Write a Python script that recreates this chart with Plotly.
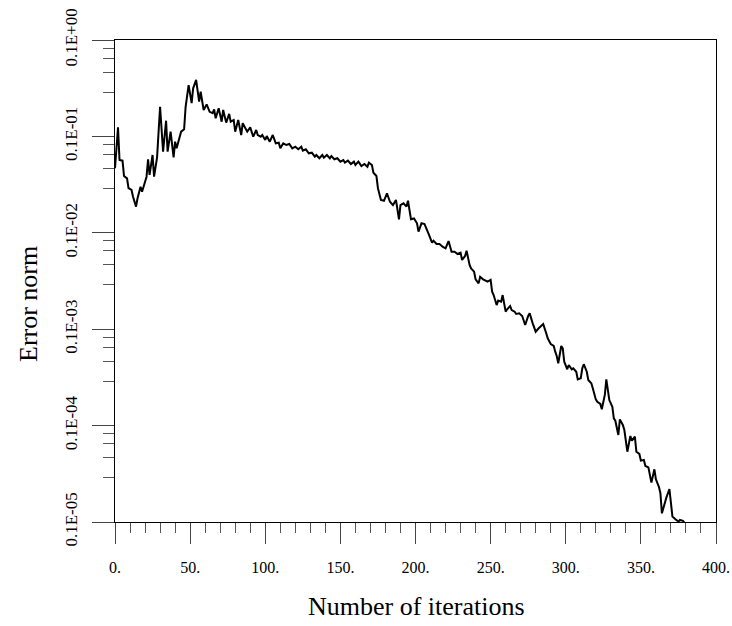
import plotly.graph_objects as go

# ---- data ----
iterations = [0, 2, 3, 5, 6, 8, 9, 11, 12, 14, 15, 17, 18, 20, 21, 22, 23, 25, 26, 28,
              30, 32, 34, 35, 37, 39, 40, 41, 43, 44, 46, 47, 49, 51, 52, 54, 56, 57, 59, 61,
              63, 65, 66, 67, 69, 71, 72, 74, 76, 77, 79, 80, 82, 84, 85, 87, 88, 90, 92, 94,
              95, 97, 98, 100, 101, 103, 105, 107, 109, 110, 112, 114, 116, 118, 120, 122, 124, 125, 127, 129,
              131, 133, 134, 136, 138, 139, 141, 143, 144, 146, 148, 150, 152, 153, 155, 157, 159, 160, 162, 164,
              166, 168, 169, 171, 172, 174, 175, 177, 179, 181, 183, 185, 187, 189, 190, 192, 194, 195, 197, 199,
              201, 202, 204, 206, 208, 209, 211, 212, 214, 216, 218, 220, 222, 224, 226, 228, 230, 231, 233, 234,
              236, 237, 239, 240, 242, 243, 245, 246, 248, 250, 251, 252, 254, 255, 257, 258, 259, 260, 261, 263,
              264, 266, 267, 269, 271, 273, 275, 276, 278, 280, 282, 284, 285, 287, 288, 290, 292, 293, 294, 295,
              296, 297, 298, 299, 301, 302, 304, 305, 307, 308, 310, 311, 312, 314, 315, 317, 318, 320, 321, 323,
              324, 326, 327, 328, 329, 331, 332, 333, 335, 336, 338, 339, 341, 343, 344, 346, 347, 349, 350, 352,
              353, 355, 357, 359, 360, 362, 363, 364, 366, 367, 369, 370, 371, 373, 375, 376, 378, 379]

error_norm = [4.67e-3, 1.24e-2, 5.69e-3, 5.60e-3, 3.88e-3, 3.67e-3, 2.90e-3, 2.78e-3, 2.37e-3, 1.87e-3,
              2.28e-3, 3.01e-3, 2.67e-3, 3.53e-3, 3.82e-3, 5.79e-3, 3.98e-3, 6.41e-3, 3.82e-3, 6.07e-3,
              2.03e-2, 6.94e-3, 1.455e-2, 6.94e-3, 1.119e-2, 6.07e-3, 8.81e-3, 7.52e-3, 9.56e-3, 1.119e-2,
              1.185e-2, 2.03e-2, 3.41e-2, 2.21e-2, 3.155e-2, 3.85e-2, 2.29e-2, 2.91e-2, 1.88e-2, 2.15e-2,
              1.80e-2, 1.74e-2, 1.91e-2, 1.54e-2, 1.96e-2, 1.42e-2, 1.88e-2, 1.39e-2, 1.71e-2, 1.42e-2,
              1.48e-2, 1.119e-2, 1.48e-2, 1.034e-2, 1.37e-2, 1.165e-2, 1.119e-2, 1.24e-2, 9.93e-3, 1.165e-2,
              1.034e-2, 9.93e-3, 1.034e-2, 9.18e-3, 1.01e-2, 8.81e-3, 1.034e-2, 8.48e-3, 8.60e-3, 7.52e-3,
              8.48e-3, 8.14e-3, 8.34e-3, 7.52e-3, 7.82e-3, 7.35e-3, 7.82e-3, 7.11e-3, 7.35e-3, 6.68e-3,
              6.78e-3, 6.16e-3, 6.41e-3, 5.93e-3, 6.41e-3, 6.01e-3, 6.41e-3, 5.93e-3, 6.26e-3, 5.79e-3,
              5.93e-3, 5.47e-3, 5.69e-3, 5.34e-3, 5.60e-3, 5.17e-3, 5.47e-3, 5.05e-3, 5.47e-3, 4.93e-3,
              5.17e-3, 4.85e-3, 5.34e-3, 5.05e-3, 4.20e-3, 3.88e-3, 2.90e-3, 2.19e-3, 2.15e-3, 2.57e-3,
              2.10e-3, 1.94e-3, 2.19e-3, 1.38e-3, 1.94e-3, 2.02e-3, 1.87e-3, 2.15e-3, 1.38e-3, 1.41e-3,
              1.255e-3, 1.027e-3, 1.255e-3, 1.234e-3, 1.003e-3, 9.49e-4, 7.90e-4, 8.28e-4, 7.65e-4, 7.65e-4,
              7.18e-4, 6.91e-4, 8.22e-4, 6.37e-4, 6.37e-4, 6.03e-4, 6.22e-4, 5.22e-4, 5.75e-4, 6.52e-4,
              4.64e-4, 4.28e-4, 3.95e-4, 3.29e-4, 2.99e-4, 3.50e-4, 3.29e-4, 3.24e-4, 3.11e-4, 3.24e-4,
              2.45e-4, 2.26e-4, 1.78e-4, 1.98e-4, 1.93e-4, 2.26e-4, 1.78e-4, 1.52e-4, 1.61e-4, 1.74e-4,
              1.58e-4, 1.52e-4, 1.44e-4, 1.46e-4, 1.37e-4, 1.106e-4, 1.37e-4, 1.46e-4, 1.15e-4, 9.42e-5,
              1.022e-4, 1.08e-4, 1.13e-4, 9.07e-5, 8.05e-5, 7.02e-5, 6.70e-5, 5.85e-5, 5.27e-5, 4.43e-5,
              5.62e-5, 6.70e-5, 6.34e-5, 4.60e-5, 3.84e-5, 4.25e-5, 3.84e-5, 3.93e-5, 3.62e-5, 3.02e-5,
              3.10e-5, 3.93e-5, 4.33e-5, 3.62e-5, 2.97e-5, 2.75e-5, 2.44e-5, 1.87e-5, 1.77e-5, 1.68e-5,
              1.48e-5, 2.08e-5, 3.02e-5, 2.34e-5, 1.84e-5, 1.57e-5, 1.19e-5, 1.125e-5, 7.99e-6, 1.16e-5,
              1.015e-5, 9.00e-6, 5.36e-6, 7.80e-6, 6.97e-6, 7.67e-6, 5.36e-6, 5.08e-6, 4.33e-6, 4.40e-6,
              3.81e-6, 3.69e-6, 2.56e-6, 3.52e-6, 2.77e-6, 2.32e-6, 1.99e-6, 1.23e-6, 1.66e-6, 1.80e-6,
              2.19e-6, 1.56e-6, 1.14e-6, 1.07e-6, 1.01e-6, 1.05e-6, 1.03e-6, 9.84e-7]

x_tick_vals = [0, 50, 100, 150, 200, 250, 300, 350, 400]
x_tick_text = ["0.", "50.", "100.", "150.", "200.", "250.", "300.", "350.", "400."]
x_minor_vals = [v for v in range(10, 400, 10) if v % 50 != 0]

y_tick_vals = [1e-6, 1e-5, 1e-4, 1e-3, 1e-2, 1e-1]
y_tick_text = ["0.1E-05", "0.1E-04", "0.1E-03", "0.1E-02", "0.1E-01", "0.1E+00"]
y_minor_factors = [0.826, 0.649, 0.464, 0.288]
y_minor_vals = [top * f for top in y_tick_vals[1:] for f in y_minor_factors]

x_title = "Number of iterations"
y_title = "Error norm"

FONT = "Liberation Serif, Times New Roman, serif"

fig = go.Figure()
fig.add_trace(go.Scatter(
    x=iterations, y=error_norm, mode="lines",
    line=dict(color="black", width=2),
    showlegend=False, hoverinfo="skip",
))

fig.update_layout(
    width=732, height=626,
    margin=dict(l=115, r=16, t=40, b=104, autoexpand=False),
    paper_bgcolor="white", plot_bgcolor="white",
    font=dict(family=FONT, color="black"),
)

fig.update_xaxes(
    range=[0, 400], showgrid=False, zeroline=False, automargin=False,
    showline=True, linecolor="black", linewidth=1, mirror=True,
    tickmode="array", tickvals=x_tick_vals, ticktext=x_tick_text,
    ticks="outside", ticklen=21, tickwidth=1, tickcolor="#444",
    tickfont=dict(family=FONT, size=16, color="black"),
    ticklabelstandoff=10,
    minor=dict(tickmode="array", tickvals=x_minor_vals, ticks="outside",
               ticklen=10, tickwidth=1, tickcolor="#555", showgrid=False),
)

fig.update_yaxes(
    type="log", range=[-6, -1], showgrid=False, zeroline=False, automargin=False,
    showline=True, linecolor="black", linewidth=1, mirror=True,
    tickmode="array", tickvals=y_tick_vals, ticktext=y_tick_text,
    ticks="outside", ticklen=22, tickwidth=1, tickcolor="#444",
    tickangle=-90,
    tickfont=dict(family=FONT, size=17, color="black"),
    ticklabelstandoff=8,
    minor=dict(tickmode="array", tickvals=y_minor_vals, ticks="outside",
               ticklen=11, tickwidth=1, tickcolor="#555", showgrid=False),
)

fig.add_annotation(
    text=x_title, xref="paper", yref="paper", x=0.5015, y=-0.2095,
    xanchor="center", yanchor="bottom", showarrow=False,
    font=dict(family=FONT, size=26, color="black"),
)
fig.add_annotation(
    text=y_title, xref="paper", yref="paper", x=-0.145, y=0.452,
    xanchor="center", yanchor="middle", showarrow=False, textangle=-90,
    font=dict(family=FONT, size=26, color="black"),
)

# remove the default 8px page margin so the figure fills the window exactly
fig.write_html(
    "out.html",
    config={"displayModeBar": False},
    post_script="document.body.style.margin='0';document.documentElement.style.overflow='hidden';",
)
